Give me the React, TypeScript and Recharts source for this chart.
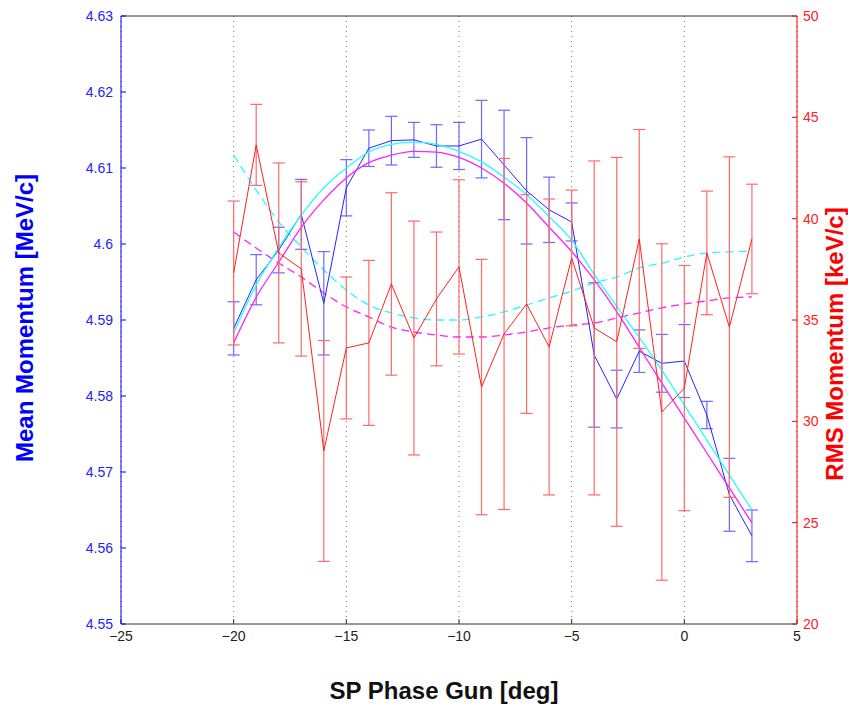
import {
  ComposedChart,
  Line,
  XAxis,
  YAxis,
  CartesianGrid,
  ErrorBar,
  ReferenceLine,
  Label,
} from "recharts";

const phase = [-20, -19, -18, -17, -16, -15, -14, -13, -12, -11, -10, -9, -8, -7, -6, -5, -4, -3, -2, -1, 0, 1, 2, 3];

const meanMomentum = [
  4.5889, 4.5953, 4.5992, 4.6039, 4.5922, 4.6074, 4.6126, 4.6136, 4.6137, 4.6129, 4.6129, 4.6138,
  4.6104, 4.607, 4.6045, 4.6029, 4.5854, 4.5796, 4.5859, 4.5843, 4.5846, 4.5775, 4.567, 4.5616,
];
const meanError = [
  0.0035, 0.0033, 0.003, 0.0046, 0.0068, 0.0037, 0.0024, 0.0032, 0.0023, 0.0028, 0.0031, 0.0051,
  0.0072, 0.007, 0.0043, 0.0025, 0.0095, 0.0038, 0.0028, 0.0038, 0.0048, 0.0018, 0.0048, 0.0034,
];
const rmsMomentum = [
  37.32, 43.64, 38.31, 37.52, 28.54, 33.62, 33.87, 36.78, 34.11, 36.04, 37.62, 31.69,
  34.31, 35.79, 33.67, 38.06, 34.61, 33.92, 39.0, 30.46, 31.64, 38.31, 34.65, 39.0,
];
const rmsError = [
  3.55, 2.0, 4.44, 4.3, 5.45, 3.5, 4.07, 4.5, 5.77, 3.3, 4.3, 6.3,
  8.66, 5.4, 7.3, 3.35, 8.24, 9.1, 5.4, 8.3, 6.05, 3.05, 8.4, 2.7,
];
const meanFitCyan = [
  4.5883, 4.5946, 4.5995, 4.6038, 4.6074, 4.61, 4.6121, 4.6131, 4.6134, 4.6131, 4.6122, 4.6108,
  4.6088, 4.6065, 4.6036, 4.6005, 4.596, 4.5918, 4.5877, 4.5834, 4.5788, 4.5742, 4.5696, 4.565,
];
const meanFitMagenta = [
  4.587, 4.593, 4.5976, 4.6022, 4.6058, 4.6087, 4.6107, 4.6117, 4.6122, 4.6121, 4.6114, 4.61,
  4.608, 4.6054, 4.6022, 4.599, 4.5953, 4.5911, 4.5864, 4.5817, 4.5771, 4.5725, 4.5679, 4.5633,
];
const rmsFitCyan = [
  43.14, 41.41, 39.84, 38.6, 37.47, 36.48, 35.74, 35.35, 35.1, 35.0, 35.0, 35.15,
  35.4, 35.74, 36.09, 36.43, 36.83, 37.12, 37.57, 37.81, 38.11, 38.31, 38.36, 38.4,
];
const rmsFitMagenta = [
  39.34, 38.55, 37.81, 37.12, 36.33, 35.64, 35.15, 34.65, 34.41, 34.26, 34.16, 34.16,
  34.26, 34.41, 34.61, 34.75, 34.85, 35.1, 35.35, 35.6, 35.79, 35.94, 36.09, 36.14,
];

const xTicks = [-25, -20, -15, -10, -5, 0, 5];
const meanTicks = [4.55, 4.56, 4.57, 4.58, 4.59, 4.6, 4.61, 4.62, 4.63];
const rmsTicks = [20, 25, 30, 35, 40, 45, 50];

const data = phase.map((x, i) => ({
  x,
  mean: meanMomentum[i],
  meanErr: meanError[i],
  rms: rmsMomentum[i],
  rmsErr: rmsError[i],
  meanFitC: meanFitCyan[i],
  meanFitM: meanFitMagenta[i],
  rmsFitC: rmsFitCyan[i],
  rmsFitM: rmsFitMagenta[i],
}));

const FONT = "'Liberation Sans', Arial, Helvetica, sans-serif";

const fmtX = (v: number) => (v < 0 ? "\u2212" + Math.abs(v) : String(v));
const fmtMean = (v: number) => String(Number(v.toFixed(2)));

// svg is pinned to the page corner, so these are page coordinates
const title = (text: string, color: string, cx: number, cy: number, angle: number) =>
  () => (
    <text
      x={cx}
      y={cy}
      transform={angle ? `rotate(${angle} ${cx} ${cy})` : undefined}
      textAnchor="middle"
      dominantBaseline="central"
      fill={color}
      fontFamily={FONT}
      fontWeight="bold"
      fontSize={24}
    >
      {text}
    </text>
  );

export default function App() {
  return (
    <div style={{ position: "absolute", left: 0, top: 0, width: 848, height: 713, fontFamily: FONT }}>
      <ComposedChart
        width={848}
        height={713}
        data={data}
        margin={{ top: 16, right: 0, bottom: 0, left: 0 }}
      >
        <CartesianGrid
          yAxisId="left"
          horizontal={false}
          stroke="#777"
          strokeDasharray="1 4"
        />
        <XAxis
          dataKey="x"
          type="number"
          domain={[-25, 5]}
          ticks={xTicks}
          tickFormatter={fmtX}
          height={89}
          tickSize={-5}
          tickMargin={12}
          axisLine={{ stroke: "#333" }}
          tickLine={{ stroke: "#333" }}
          tick={{ fill: "#222", fontSize: 14, fontFamily: FONT }}
          allowDataOverflow
        >
          <Label content={title("SP Phase Gun [deg]", "#111", 444, 690, 0)} />
        </XAxis>
        <YAxis
          yAxisId="left"
          orientation="left"
          domain={[4.55, 4.63]}
          ticks={meanTicks}
          tickFormatter={fmtMean}
          width={121}
          tickSize={-5}
          tickMargin={13}
          axisLine={{ stroke: "#0000ff" }}
          tickLine={{ stroke: "#0000ff" }}
          tick={{ fill: "#2222ff", fontSize: 14, fontFamily: FONT }}
          allowDataOverflow
        >
          <Label content={title("Mean Momentum [MeV/c]", "#0000ff", 24, 318, -90)} />
        </YAxis>
        <YAxis
          yAxisId="right"
          orientation="right"
          domain={[20, 50]}
          ticks={rmsTicks}
          width={51}
          tickSize={-5}
          tickMargin={11}
          axisLine={{ stroke: "#ff0000" }}
          tickLine={{ stroke: "#ff0000" }}
          tick={{ fill: "#ff2222", fontSize: 14, fontFamily: FONT }}
          allowDataOverflow
        >
          <Label content={title("RMS Momentum [keV/c]", "#ff0000", 834, 344, -90)} />
        </YAxis>
        <ReferenceLine yAxisId="left" y={4.63} stroke="#333" />

        <Line
          yAxisId="right"
          dataKey="rmsFitC"
          type="monotone"
          stroke="#22ffff"
          strokeWidth={1.3}
          strokeDasharray="8 5"
          dot={false}
          activeDot={false}
          isAnimationActive={false}
        />
        <Line
          yAxisId="right"
          dataKey="rmsFitM"
          type="monotone"
          stroke="#ff22ff"
          strokeWidth={1.3}
          strokeDasharray="8 5"
          dot={false}
          activeDot={false}
          isAnimationActive={false}
        />
        <Line
          yAxisId="left"
          dataKey="mean"
          type="linear"
          stroke="#2424ff"
          strokeWidth={1}
          dot={false}
          activeDot={false}
          isAnimationActive={false}
        >
          <ErrorBar
            dataKey="meanErr"
            width={6}
            stroke="#6a6aff"
            strokeWidth={1.2}
            isAnimationActive={false}
          />
        </Line>
        <Line
          yAxisId="left"
          dataKey="meanFitC"
          type="monotone"
          stroke="#22ffff"
          strokeWidth={1.3}
          dot={false}
          activeDot={false}
          isAnimationActive={false}
        />
        <Line
          yAxisId="left"
          dataKey="meanFitM"
          type="monotone"
          stroke="#ff22ff"
          strokeWidth={1.3}
          dot={false}
          activeDot={false}
          isAnimationActive={false}
        />
        <Line
          yAxisId="right"
          dataKey="rms"
          type="linear"
          stroke="#ff2020"
          strokeWidth={1}
          dot={false}
          activeDot={false}
          isAnimationActive={false}
        >
          <ErrorBar
            dataKey="rmsErr"
            width={6}
            stroke="#ff6a6a"
            strokeWidth={1.2}
            isAnimationActive={false}
          />
        </Line>
      </ComposedChart>
    </div>
  );
}
